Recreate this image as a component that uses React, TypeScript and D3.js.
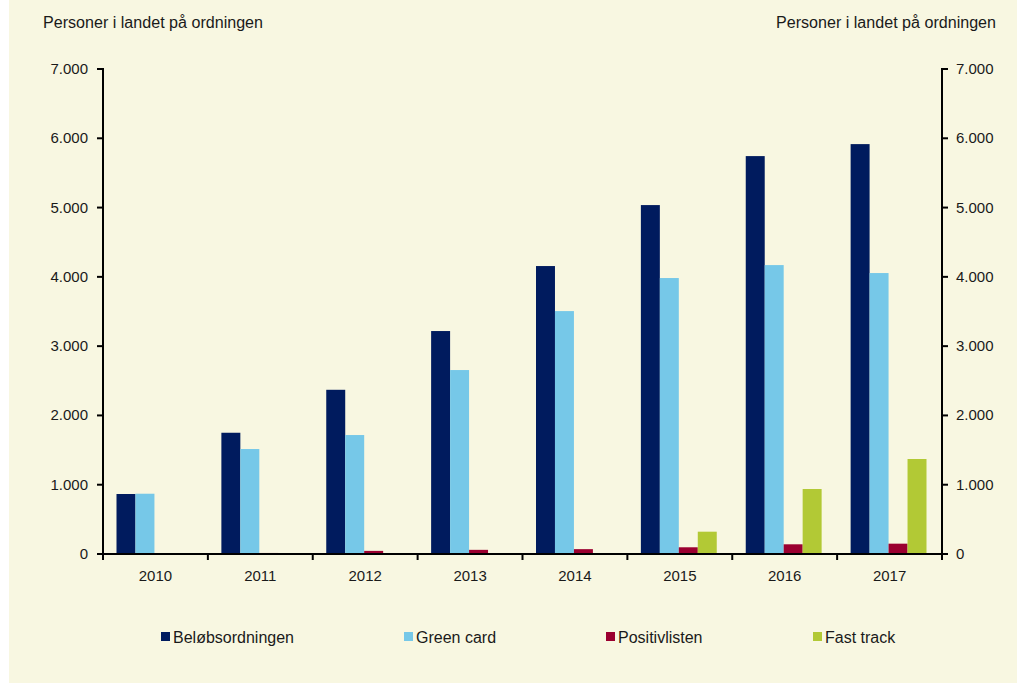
import React from "react";
import * as d3 from "d3";

const years = ["2010", "2011", "2012", "2013", "2014", "2015", "2016", "2017"];
const seriesNames = ["Beløbsordningen", "Green card", "Positivlisten", "Fast track"];
const belob = [866, 1750, 2370, 3218, 4156, 5036, 5743, 5916];
const greenCard = [870, 1515, 1717, 2655, 3506, 3983, 4170, 4055];
const positiv = [5, 15, 45, 60, 70, 97, 140, 149];
const fastTrack = [0, 0, 0, 0, 0, 322, 938, 1371];
const yTicks = [0, 1000, 2000, 3000, 4000, 5000, 6000, 7000];
const colors = ["#001B5E", "#76C8E8", "#9B0030", "#B2C935"];
const legendX = [161, 404, 606, 813];

const W = 1017;
const H = 683;
const left = 103;
const right = 942;
const top = 69;
const bottom = 554;

export default function App() {
  const series = [belob, greenCard, positiv, fastTrack];
  const x = d3.scaleBand().domain(years).range([left, right]).paddingInner(0).paddingOuter(0);
  const inner = d3.scaleBand().domain(seriesNames).range([13.5, x.bandwidth() - 15.5]).padding(0);
  const y = d3.scaleLinear().domain([0, 7000]).range([bottom, top]);
  const fmt = (v: number) => (v === 0 ? "0" : d3.format(",")(v).replace(/,/g, "."));
  const font = "'Liberation Sans', Arial, sans-serif";
  const boundaries = years.map((yr) => x(yr) as number).concat([right]);

  return (
    <svg
      width={W}
      height={H}
      style={{ position: "absolute", left: 0, top: 0 }}
      fontFamily={font}
    >
      <rect x={0} y={0} width={W} height={H} fill="#ffffff" />
      <rect x={9} y={0} width={W - 9} height={H} fill="#F8F7E1" />
      <text x={43} y={28} fontSize={16} textLength={220} lengthAdjust="spacingAndGlyphs" fill="#1a1a1a">Personer i landet på ordningen</text>
      <text x={776} y={28} fontSize={16} textLength={220} lengthAdjust="spacingAndGlyphs" fill="#1a1a1a">Personer i landet på ordningen</text>

      {series.map((vals, si) =>
        vals.map((v, i) => (
          <rect
            key={`${si}-${i}`}
            x={(x(years[i]) as number) + (inner(seriesNames[si]) as number)}
            y={y(v)}
            width={inner.bandwidth()}
            height={bottom - y(v)}
            fill={colors[si]}
          />
        ))
      )}

      {/* left axis */}
      <line x1={left} x2={left} y1={top - 1} y2={bottom + 1} stroke="#000" strokeWidth={2} />
      {yTicks.map((t) => (
        <g key={`l${t}`}>
          <line x1={left - 6} x2={left} y1={y(t)} y2={y(t)} stroke="#000" strokeWidth={2} />
          <text x={88} y={y(t) + 5} fontSize={15} textAnchor="end" fill="#1a1a1a">{fmt(t)}</text>
        </g>
      ))}
      {/* right axis */}
      <line x1={right} x2={right} y1={top - 1} y2={bottom + 1} stroke="#000" strokeWidth={2} />
      {yTicks.map((t) => (
        <g key={`r${t}`}>
          <line x1={right} x2={right + 6} y1={y(t)} y2={y(t)} stroke="#000" strokeWidth={2} />
          <text x={956} y={y(t) + 5} fontSize={15} textAnchor="start" fill="#1a1a1a">{fmt(t)}</text>
        </g>
      ))}
      {/* x axis */}
      <line x1={left - 1} x2={right + 1} y1={bottom} y2={bottom} stroke="#000" strokeWidth={2} />
      {boundaries.map((b, i) => (
        <line key={`xt${i}`} x1={b} x2={b} y1={bottom} y2={bottom + 6} stroke="#000" strokeWidth={2} />
      ))}
      {years.map((yr) => (
        <text
          key={yr}
          x={(x(yr) as number) + x.bandwidth() / 2}
          y={581}
          fontSize={15}
          textAnchor="middle"
          fill="#1a1a1a"
        >
          {yr}
        </text>
      ))}

      {/* legend */}
      {seriesNames.map((n, i) => (
        <g key={n}>
          <rect x={legendX[i]} y={632} width={9} height={9} fill={colors[i]} />
          <text x={legendX[i] + 12} y={643} fontSize={16} fill="#1a1a1a">{n}</text>
        </g>
      ))}
    </svg>
  );
}
